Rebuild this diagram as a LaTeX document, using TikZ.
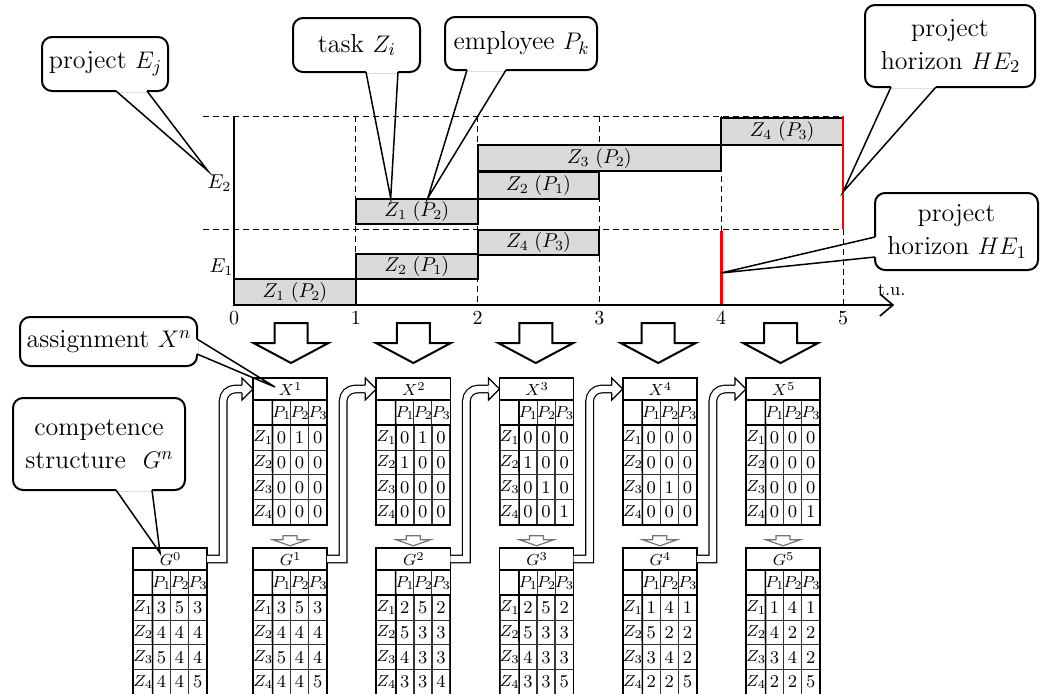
\documentclass[tikz,border=0pt]{standalone}
\usepackage{amsmath}
\usetikzlibrary{positioning,fit,calc,matrix,arrows.meta}
\scriptspace=0pt

\begin{document}
\begin{tikzpicture}[
    x=0.5pt, y=-0.5pt,
    font=\fontsize{13}{16.5}\selectfont,
    call/.style   = {draw, line width=1pt, rounded corners=5pt, fill=white,
                     align=center, inner sep=0pt},
    ptr/.style    = {line width=0.75pt},
    bar/.style    = {draw, line width=1pt, fill=black!15, inner sep=0pt},
    barlbl/.style = {font=\fontsize{10}{11}\selectfont, inner sep=0pt},
    lbl/.style    = {font=\fontsize{10}{11}\selectfont, inner sep=1pt},
    grd/.style    = {line width=0.5pt, dash pattern=on 3pt off 2pt},
    hrz/.style    = {draw=red, line width=1.4pt},
    axis/.style   = {line width=0.8pt},
    bigarr/.style = {draw, line width=1pt, fill=white, line join=miter},
    smlarr/.style = {draw=black!55, line width=0.6pt, fill=white},
    tbl/.style    = {matrix of math nodes, anchor=north west, inner sep=0pt,
                     outer sep=0pt, column sep=-0.4pt, row sep=-0.4pt,
                     nodes={draw=black!80, line width=0.4pt, minimum width=8.8pt,
                            minimum height=12.4pt, inner sep=0pt, anchor=center,
                            font=\fontsize{9}{10}\selectfont},
                     row 1/.style={nodes={font=\fontsize{8}{9}\selectfont}},
                     column 1/.style={nodes={minimum width=9.5pt,
                                             font=\fontsize{8}{9}\selectfont}}},
    ttl/.style    = {inner sep=0pt, outer sep=0pt},
    tfont/.style  = {font=\fontsize{8.5}{9}\selectfont, inner sep=0pt},
    frm/.style    = {line width=0.8pt},
    pipe/.style   = {line width=0.6pt, double=white, double distance=3.2pt},
]
\useasboundingbox (0,0) rectangle (1040,693);

%============================ GANTT CHART ===========================
\begin{scope}[shift={(234,0)}, x=60.9pt]
  \draw[grd] (-0.255,116) -- (5,116);
  \draw[grd] (-0.255,229) -- (5,229);
  \foreach \t in {1,...,4} \draw[grd] (\t,116) -- (\t,305);
  \draw[grd] (5,229) -- (5,305);

  % --- tasks: start/end/top/bottom/label/name
  \foreach \a/\b/\ya/\yb/\lab/\nm in {
      0/1/279/305/{Z_1\ (P_2)}/b11, 1/2/254/279/{Z_2\ (P_1)}/b12,
      2/3/230/255/{Z_4\ (P_3)}/b14, 1/2/199/224/{Z_1\ (P_2)}/b21,
      2/3/172/199/{Z_2\ (P_1)}/b22, 2/4/145/171/{Z_3\ (P_2)}/b23,
      4/5/118/145/{Z_4\ (P_3)}/b24}
    \node[bar, fit={(\a,\ya) (\b,\yb)}, label={[barlbl]center:$\lab$}] (\nm) {};

  \draw[hrz] (5,116) -- (5,229);
  \draw[hrz] (4,231) -- (4,305);
  \draw[axis, -{Straight Barb[length=6.5pt, width=11pt]}]
        (0,116) -- (0,305) -- (5.42,305);
  \foreach \t in {0,...,5} \node[lbl] (tk\t) at (\t,318) {\t};
  \node[lbl, font=\fontsize{9}{10}\selectfont] (tu) at (5.4,290) {t.u.};
\end{scope}

\node[lbl] (E2) at (219,183) {$E_2$};
\node[lbl] (E1) at (221,267) {$E_1$};

%============================ CALLOUTS (TOP) ========================
\node[call, minimum width=63pt, minimum height=27pt] (cE) at (105,64) {project $E_j$};
\node[call, minimum width=63.5pt, minimum height=27pt] (cZ) at (356.5,45) {task $Z_i$};
\node[call, minimum width=76pt, minimum height=26.5pt] (cP) at (521,43.5) {employee $P_k$};
\node[call, minimum width=85pt, minimum height=41pt] (cH2) at (950,46) {project\\horizon $HE_2$};
\node[call, minimum width=81.5pt, minimum height=38.5pt] (cH1) at (956.5,231.5) {project\\horizon $HE_1$};

\coordinate (tE) at (208,171);
\coordinate (tZ) at ($(b21.north west)!0.29!(b21.north east)$);
\coordinate (tP) at ($(b21.north west)!0.59!(b21.north east)$);
\coordinate (tH2) at (843,192);
\coordinate (tH1) at (721,273);

\fill[white] ($(cE.south west)+(75,-3)$) rectangle ($(cE.south west)+(106,0)$);
\draw[ptr] ($(cE.south west)+(75,-1)$) -- (tE) -- ($(cE.south west)+(106,-1)$);
\fill[white] ($(cZ.south west)+(74,-3)$) rectangle ($(cZ.south west)+(106,0)$);
\draw[ptr] ($(cZ.south west)+(74,-1)$) -- (tZ) -- ($(cZ.south west)+(106,-1)$);
\fill[white] ($(cP.south west)+(23,-3)$) rectangle ($(cP.south west)+(62,0)$);
\draw[ptr] ($(cP.south west)+(23,-1)$) -- (tP) -- ($(cP.south west)+(62,-1)$);
\fill[white] ($(cH2.south west)+(27,-3)$) rectangle ($(cH2.south west)+(72,0)$);
\draw[ptr] ($(cH2.south west)+(27,-1)$) -- (tH2) -- ($(cH2.south west)+(72,-1)$);
\fill[white] ($(cH1.north west)+(0,45)$) rectangle ($(cH1.north west)+(3,65)$);
\draw[ptr] ($(cH1.north west)+(1,45)$) -- (tH1) -- ($(cH1.north west)+(1,65)$);

%============================ TRANSITIONS ===========================
\foreach \c in {291,413.4,535.8,658.2,780.6}
  \draw[bigarr, shift={(\c,0)}] (-16.5,323) -- (16.5,323) -- (16.5,343) -- (37.5,343)
        -- (0,363) -- (-37.5,343) -- (-16.5,343) -- cycle;

%============================ ASSIGNMENTS X =========================
\matrix[tbl] (X1) at (253,400) {
     & P_1 & P_2 & P_3 \\
 Z_1 & 0 & 1 & 0 \\
 Z_2 & 0 & 0 & 0 \\
 Z_3 & 0 & 0 & 0 \\
 Z_4 & 0 & 0 & 0 \\
};
\node[ttl, fit={(X1.north west) ($(X1.north east)+(0,-22)$)},
      label={[tfont]center:$X^{1}$}] (X1-t) {};

\matrix[tbl] (X2) at (376.25,400) {
     & P_1 & P_2 & P_3 \\
 Z_1 & 0 & 1 & 0 \\
 Z_2 & 1 & 0 & 0 \\
 Z_3 & 0 & 0 & 0 \\
 Z_4 & 0 & 0 & 0 \\
};
\node[ttl, fit={(X2.north west) ($(X2.north east)+(0,-22)$)},
      label={[tfont]center:$X^{2}$}] (X2-t) {};

\matrix[tbl] (X3) at (499.5,400) {
     & P_1 & P_2 & P_3 \\
 Z_1 & 0 & 0 & 0 \\
 Z_2 & 1 & 0 & 0 \\
 Z_3 & 0 & 1 & 0 \\
 Z_4 & 0 & 0 & 1 \\
};
\node[ttl, fit={(X3.north west) ($(X3.north east)+(0,-22)$)},
      label={[tfont]center:$X^{3}$}] (X3-t) {};

\matrix[tbl] (X4) at (622.75,400) {
     & P_1 & P_2 & P_3 \\
 Z_1 & 0 & 0 & 0 \\
 Z_2 & 0 & 0 & 0 \\
 Z_3 & 0 & 1 & 0 \\
 Z_4 & 0 & 0 & 0 \\
};
\node[ttl, fit={(X4.north west) ($(X4.north east)+(0,-22)$)},
      label={[tfont]center:$X^{4}$}] (X4-t) {};

\matrix[tbl] (X5) at (746,400) {
     & P_1 & P_2 & P_3 \\
 Z_1 & 0 & 0 & 0 \\
 Z_2 & 0 & 0 & 0 \\
 Z_3 & 0 & 0 & 0 \\
 Z_4 & 0 & 0 & 1 \\
};
\node[ttl, fit={(X5.north west) ($(X5.north east)+(0,-22)$)},
      label={[tfont]center:$X^{5}$}] (X5-t) {};

%============================ COMPETENCES G =========================
\matrix[tbl] (G0) at (133,570) {
     & P_1 & P_2 & P_3 \\
 Z_1 & 3 & 5 & 3 \\
 Z_2 & 4 & 4 & 4 \\
 Z_3 & 5 & 4 & 4 \\
 Z_4 & 4 & 4 & 5 \\
};
\node[ttl, fit={(G0.north west) ($(G0.north east)+(0,-22)$)},
      label={[tfont]center:$G^{0}$}] (G0-t) {};

\matrix[tbl] (G1) at (253,570) {
     & P_1 & P_2 & P_3 \\
 Z_1 & 3 & 5 & 3 \\
 Z_2 & 4 & 4 & 4 \\
 Z_3 & 5 & 4 & 4 \\
 Z_4 & 4 & 4 & 5 \\
};
\node[ttl, fit={(G1.north west) ($(G1.north east)+(0,-22)$)},
      label={[tfont]center:$G^{1}$}] (G1-t) {};

\matrix[tbl] (G2) at (376.25,570) {
     & P_1 & P_2 & P_3 \\
 Z_1 & 2 & 5 & 2 \\
 Z_2 & 5 & 3 & 3 \\
 Z_3 & 4 & 3 & 3 \\
 Z_4 & 3 & 3 & 4 \\
};
\node[ttl, fit={(G2.north west) ($(G2.north east)+(0,-22)$)},
      label={[tfont]center:$G^{2}$}] (G2-t) {};

\matrix[tbl] (G3) at (499.5,570) {
     & P_1 & P_2 & P_3 \\
 Z_1 & 2 & 5 & 2 \\
 Z_2 & 5 & 3 & 3 \\
 Z_3 & 4 & 3 & 3 \\
 Z_4 & 3 & 3 & 5 \\
};
\node[ttl, fit={(G3.north west) ($(G3.north east)+(0,-22)$)},
      label={[tfont]center:$G^{3}$}] (G3-t) {};

\matrix[tbl] (G4) at (622.75,570) {
     & P_1 & P_2 & P_3 \\
 Z_1 & 1 & 4 & 1 \\
 Z_2 & 5 & 2 & 2 \\
 Z_3 & 3 & 4 & 2 \\
 Z_4 & 2 & 2 & 5 \\
};
\node[ttl, fit={(G4.north west) ($(G4.north east)+(0,-22)$)},
      label={[tfont]center:$G^{4}$}] (G4-t) {};

\matrix[tbl] (G5) at (746,570) {
     & P_1 & P_2 & P_3 \\
 Z_1 & 1 & 4 & 1 \\
 Z_2 & 4 & 2 & 2 \\
 Z_3 & 3 & 4 & 2 \\
 Z_4 & 2 & 2 & 5 \\
};
\node[ttl, fit={(G5.north west) ($(G5.north east)+(0,-22)$)},
      label={[tfont]center:$G^{5}$}] (G5-t) {};

% --- frames of all tables
\foreach \tb in {X1,X2,X3,X4,X5,G0,G1,G2,G3,G4,G5} {
  \draw[frm] (\tb-t.north west) rectangle (\tb.south east);
  \draw[frm] (\tb-t.south west) -- (\tb-t.south east);
  \draw[frm] (\tb-1-2.north west) -- (\tb-5-2.south west);
  \draw[frm] (\tb-2-1.north west) -- (\tb-2-4.north east);
}

% --- X^n -> G^n
\foreach \tb in {X1,X2,X3,X4,X5}
  \draw[smlarr, shift={(\tb.south)}] (-7,11) -- (7,11) -- (7,15) -- (17,15)
        -- (0,21) -- (-17,15) -- (-7,15) -- cycle;

% --- G^{n-1} -> X^n
\foreach \a/\b in {G0/X1,G1/X2,G2/X3,G3/X4,G4/X5} {
  \draw[pipe] (\a-t.east) -- ++(16,0) [rounded corners=6pt] |- ($(\b-t.west)+(-11,0)$);
  \fill[white] ($(\b-t.west)+(-11,-11)$) -- (\b-t.west) -- ($(\b-t.west)+(-11,11)$) -- cycle;
  \draw[ptr, line width=0.6pt] ($(\b-t.west)+(-11,-3.8)$) -- ++(0,-7.2) -- (\b-t.west)
        -- ($(\b-t.west)+(-11,11)$) -- ++(0,-7.2);
}

%============================ CALLOUTS (BOTTOM) =====================
\node[call, minimum width=88.5pt, minimum height=24.5pt] (cX) at (108.5,341.5) {assignment $X^n$};
\node[call, minimum width=86pt, minimum height=46pt] (cG) at (99,444) {competence\\structure~~$G^n$};

\coordinate (tX) at ($(X1-t.west)+(22,-2)$);
\coordinate (tG) at ($(G0-t.north)+(-10,5)$);

\fill[white] ($(cX.north east)+(-3,23)$) rectangle ($(cX.north east)+(0,38)$);
\draw[ptr] ($(cX.north east)+(-1,23)$) -- (tX) -- ($(cX.north east)+(-1,38)$);
\fill[white] ($(cG.south west)+(104,-3)$) rectangle ($(cG.south west)+(140,0)$);
\draw[ptr] ($(cG.south west)+(104,-1)$) -- (tG) -- ($(cG.south west)+(140,-1)$);

\end{tikzpicture}
\end{document}
